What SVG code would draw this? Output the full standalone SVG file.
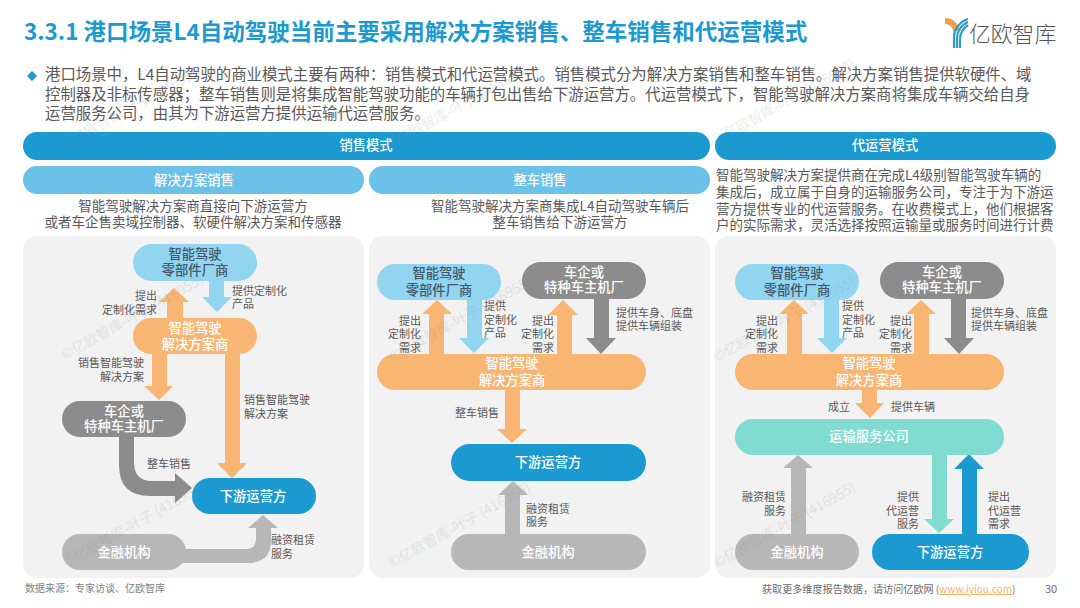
<svg xmlns="http://www.w3.org/2000/svg" width="1080" height="608" viewBox="0 0 1080 608">
<style>
text{font-family:"Noto Sans CJK SC","Noto Sans",sans-serif}
.title{font-size:22.5px;font-weight:700;fill:#1b9ad2}
.body{font-size:15.4px;fill:#595959}
.bar{fill:#1b9ad2}.sub{fill:#6cc1e8}
.bt{font-size:13.3px;fill:#fff;text-anchor:middle;font-weight:500}
.desc{font-size:13.5px;fill:#595959}
.m{text-anchor:middle}
.panel{fill:#f2f2f2}
.lbl{font-size:11px;fill:#595959}
.e{text-anchor:end}
.nt{font-size:13.3px;fill:#fff;text-anchor:middle;font-weight:500}
.dk{fill:#44586a}
.orange{fill:#f9b572}.lblue{fill:#92d5f1}.gray{fill:#8c8c8c}.lgray{fill:#b7b7b7}.teal{fill:#80dbd1}.blue{fill:#1b9ad2}
.wm{font-size:14px;fill:#8a8a8a;opacity:.16}
.foot{font-size:10px;fill:#7f7f7f}
.foot2{font-size:10.1px;fill:#6b6b6b}
</style>
<rect width="1080" height="608" fill="#fff"/>
<text class="title" x="24" y="40">3.3.1 港口场景L4自动驾驶当前主要采用解决方案销售、整车销售和代运营模式</text>
<g id="logo">
<path d="M945,21 C952,21 955,25 956.5,31" fill="none" stroke="#f0a04b" stroke-width="6"/>
<g fill="none" stroke="#2f9bc8" stroke-width="2.2">
<path d="M954,48 V37 C954,30 959,22 968,19"/>
<path d="M957,48 V38 C957,32 961,25 968,22"/>
<path d="M960,48 V39 C960,34 963,28 968,25"/>
</g>
<text x="969" y="42" font-size="21.8" font-weight="300" fill="#555">亿欧智库</text>
</g>
<polygon points="32,71 37,76 32,81 27,76" fill="#1b9ad2"/>
<text class="body" x="45" y="80">港口场景中，L4自动驾驶的商业模式主要有两种：销售模式和代运营模式。销售模式分为解决方案销售和整车销售。解决方案销售提供软硬件、域</text>
<text class="body" x="45" y="100">控制器及非标传感器；整车销售则是将集成智能驾驶功能的车辆打包出售给下游运营方。代运营模式下，智能驾驶解决方案商将集成车辆交给自身</text>
<text class="body" x="45" y="119">运营服务公司，由其为下游运营方提供运输代运营服务。</text>

<g id="header-sales"><rect class="bar" x="23" y="132" width="687" height="28" rx="14"/><text class="bt" x="366" y="150">销售模式</text></g>
<g id="header-ops"><rect class="bar" x="715" y="132" width="341" height="28" rx="14"/><text class="bt" x="885" y="150">代运营模式</text></g>
<g id="sub-solution"><rect class="sub" x="23" y="166" width="341" height="28" rx="14"/><text class="bt" x="194" y="185">解决方案销售</text></g>
<g id="sub-vehicle"><rect class="sub" x="369" y="166" width="341" height="28" rx="14"/><text class="bt" x="540" y="185">整车销售</text></g>

<text class="desc m" x="193" y="211">智能驾驶解决方案商直接向下游运营方</text>
<text class="desc m" x="193" y="227">或者车企售卖域控制器、软硬件解决方案和传感器</text>
<text class="desc m" x="560" y="211">智能驾驶解决方案商集成L4自动驾驶车辆后</text>
<text class="desc m" x="560" y="227">整车销售给下游运营方</text>
<text class="desc" x="716" y="180">智能驾驶解决方案提供商在完成L4级别智能驾驶车辆的</text>
<text class="desc" x="716" y="197">集成后，成立属于自身的运输服务公司，专注于为下游运</text>
<text class="desc" x="716" y="214">营方提供专业的代运营服务。在收费模式上，他们根据客</text>
<text class="desc" x="716" y="230">户的实际需求，灵活选择按照运输量或服务时间进行计费</text>

<rect class="panel" x="23" y="236" width="341" height="342" rx="14"/>
<rect class="panel" x="369" y="236" width="341" height="342" rx="14"/>
<rect class="panel" x="715" y="236" width="341" height="342" rx="14"/>

<g id="connectors">
<polygon class="orange" points="167,318 183,318 183,302 189,302 174,288 159,302 167,302"/>
<polygon class="lblue" points="209,281 224,281 224,297 232,297 217,312 202,297 209,297"/>
<polygon class="orange" points="152,354 167,354 167,386 173,386 159,400 144,386 152,386"/>
<polygon class="orange" points="225,354 240,354 240,463 247,463 232,478 217,463 225,463"/>
<path class="gray" d="M119,437 H134 V462 Q134,481 152,481 H175 V473 L192,488 L175,503 V496 H150 Q119,496 119,465 Z"/>
<path class="lgray" d="M180,549 H246 Q256,549 256,539 V528 H248 L263,515 L278,528 H271 V540 Q271,563 248,563 H180 Z"/>

<polygon class="orange" points="429,354 444,354 444,314 452,314 437,300 422,314 429,314"/>
<polygon class="lblue" points="467,300 482,300 482,338 489,338 474,353 459,338 467,338"/>
<polygon class="orange" points="557,354 572,354 572,315 578,315 563,300 548,315 557,315"/>
<polygon class="gray" points="594,299 609,299 609,338 616,338 601,354 586,338 594,338"/>
<polygon class="orange" points="505,390 520,390 520,429 527,429 512,443 497,429 505,429"/>
<polygon class="lgray" points="505,534 520,534 520,495 528,495 513,481 498,495 505,495"/>

<polygon class="orange" points="787,354 802,354 802,314 809,314 794,300 779,314 787,314"/>
<polygon class="lblue" points="824,300 839,300 839,338 847,338 832,353 817,338 824,338"/>
<polygon class="orange" points="914,354 929,354 929,314 936,314 921,300 906,314 914,314"/>
<polygon class="gray" points="951,299 966,299 966,338 974,338 959,354 944,338 951,338"/>
<polygon class="orange" points="862,390 877,390 877,403 884,403 870,418 855,403 862,403"/>
<polygon class="lgray" points="791,534 806,534 806,468 813,468 798,455 783,468 791,468"/>
<polygon class="teal" points="932,455 947,455 947,519 954,519 939,533 924,519 932,519"/>
<polygon class="blue" points="962,534 977,534 977,469 984,469 969,454 954,469 962,469"/>
</g>

<g id="p1-parts"><rect class="lblue" x="133" y="244" width="124" height="37" rx="18.5"/><text class="nt dk" x="195" y="259">智能驾驶</text><text class="nt dk" x="195" y="275">零部件厂商</text></g>
<g id="p1-solution"><rect class="orange" x="133" y="318" width="124" height="36" rx="18"/><text class="nt" x="195" y="333">智能驾驶</text><text class="nt" x="195" y="349">解决方案商</text></g>
<g id="p1-oem"><rect class="gray" x="62" y="401" width="124" height="36" rx="18"/><text class="nt" x="124" y="416">车企或</text><text class="nt" x="124" y="431">特种车主机厂</text></g>
<g id="p1-downstream"><rect class="blue" x="192" y="478" width="124" height="36" rx="18"/><text class="nt" x="253" y="501">下游运营方</text></g>
<g id="p1-finance"><rect class="lgray" x="62" y="534" width="124" height="36" rx="18"/><text class="nt" x="124" y="557">金融机构</text></g>

<g id="p2-parts"><rect class="lblue" x="377" y="264" width="124" height="36" rx="18"/><text class="nt dk" x="439" y="278">智能驾驶</text><text class="nt dk" x="439" y="295">零部件厂商</text></g>
<g id="p2-oem"><rect class="gray" x="522" y="262" width="124" height="37" rx="18.5"/><text class="nt" x="584" y="277">车企或</text><text class="nt" x="584" y="292">特种车主机厂</text></g>
<g id="p2-solution"><rect class="orange" x="377" y="354" width="269" height="36" rx="18"/><text class="nt" x="512" y="368">智能驾驶</text><text class="nt" x="512" y="385">解决方案商</text></g>
<g id="p2-downstream"><rect class="blue" x="451" y="444" width="195" height="37" rx="18.5"/><text class="nt" x="548" y="467">下游运营方</text></g>
<g id="p2-finance"><rect class="lgray" x="451" y="534" width="195" height="36" rx="18"/><text class="nt" x="548" y="557">金融机构</text></g>

<g id="p3-parts"><rect class="lblue" x="735" y="264" width="124" height="36" rx="18"/><text class="nt dk" x="797" y="278">智能驾驶</text><text class="nt dk" x="797" y="295">零部件厂商</text></g>
<g id="p3-oem"><rect class="gray" x="880" y="262" width="124" height="37" rx="18.5"/><text class="nt" x="942" y="277">车企或</text><text class="nt" x="942" y="292">特种车主机厂</text></g>
<g id="p3-solution"><rect class="orange" x="735" y="354" width="269" height="36" rx="18"/><text class="nt" x="869" y="368">智能驾驶</text><text class="nt" x="869" y="385">解决方案商</text></g>
<g id="p3-transport"><rect class="teal" x="735" y="419" width="269" height="36" rx="18"/><text class="nt" x="869" y="441">运输服务公司</text></g>
<g id="p3-finance"><rect class="lgray" x="735" y="534" width="124" height="36" rx="18"/><text class="nt" x="797" y="557">金融机构</text></g>
<g id="p3-downstream"><rect class="blue" x="872" y="534" width="157" height="36" rx="18"/><text class="nt" x="950" y="557">下游运营方</text></g>

<g id="labels">
<text class="lbl e" x="157" y="300">提出</text><text class="lbl e" x="157" y="314">定制化需求</text>
<text class="lbl" x="232" y="295">提供定制化</text><text class="lbl" x="232" y="308">产品</text>
<text class="lbl e" x="144" y="367">销售智能驾驶</text><text class="lbl e" x="144" y="381">解决方案</text>
<text class="lbl" x="244" y="404">销售智能驾驶</text><text class="lbl" x="244" y="418">解决方案</text>
<text class="lbl" x="147" y="468">整车销售</text>
<text class="lbl" x="271" y="544">融资租赁</text><text class="lbl" x="271" y="558">服务</text>

<text class="lbl e" x="421" y="325">提出</text><text class="lbl e" x="421" y="338">定制化</text><text class="lbl e" x="421" y="352">需求</text>
<text class="lbl" x="484" y="310">提供</text><text class="lbl" x="484" y="324">定制化</text><text class="lbl" x="484" y="337">产品</text>
<text class="lbl e" x="554" y="325">提出</text><text class="lbl e" x="554" y="338">定制化</text><text class="lbl e" x="554" y="352">需求</text>
<text class="lbl" x="616" y="317">提供车身、底盘</text><text class="lbl" x="616" y="330">提供车辆组装</text>
<text class="lbl" x="455" y="417">整车销售</text>
<text class="lbl" x="526" y="513">融资租赁</text><text class="lbl" x="526" y="526">服务</text>

<text class="lbl e" x="778" y="325">提出</text><text class="lbl e" x="778" y="338">定制化</text><text class="lbl e" x="778" y="352">需求</text>
<text class="lbl" x="842" y="310">提供</text><text class="lbl" x="842" y="324">定制化</text><text class="lbl" x="842" y="337">产品</text>
<text class="lbl e" x="912" y="325">提出</text><text class="lbl e" x="912" y="338">定制化</text><text class="lbl e" x="912" y="352">需求</text>
<text class="lbl" x="971" y="317">提供车身、底盘</text><text class="lbl" x="971" y="330">提供车辆组装</text>
<text class="lbl" x="828" y="411">成立</text><text class="lbl" x="891" y="411">提供车辆</text>
<text class="lbl e" x="786" y="501">融资租赁</text><text class="lbl e" x="786" y="515">服务</text>
<text class="lbl e" x="919" y="501">提供</text><text class="lbl e" x="919" y="515">代运营</text><text class="lbl e" x="919" y="528">服务</text>
<text class="lbl" x="988" y="501">提出</text><text class="lbl" x="988" y="515">代运营</text><text class="lbl" x="988" y="528">需求</text>
</g>

<g id="watermarks">
<text class="wm" transform="translate(65,360) rotate(-29)">©亿欧智库-叶子 (416955)</text>
<text class="wm" transform="translate(67,567) rotate(-29)">©亿欧智库-叶子 (416955)</text>
<text class="wm" transform="translate(392,568) rotate(-29)">©亿欧智库-叶子 (416955)</text>
<text class="wm" transform="translate(393,362) rotate(-29)">©亿欧智库-叶子 (416955)</text>
<text class="wm" transform="translate(717,362) rotate(-29)">©亿欧智库-叶子 (416955)</text>
<text class="wm" transform="translate(717,568) rotate(-29)">©亿欧智库-叶子 (416955)</text>
<text class="wm" transform="translate(65,150) rotate(-29)">©亿欧智库-叶子 (416955)</text>
<text class="wm" transform="translate(390,150) rotate(-29)">©亿欧智库-叶子 (416955)</text>
<text class="wm" transform="translate(717,145) rotate(-29)">©亿欧智库-叶子 (416955)</text>
</g>

<text class="foot" x="25" y="592">数据来源：专家访谈、亿欧智库</text>
<text class="foot2" x="762" y="593">获取更多维度报告数据，请访问亿欧网 (<tspan fill="#f5b26b" text-decoration="underline">www.iyiou.com</tspan>)</text>
<text x="1045" y="593" font-size="11" fill="#6b6b6b">30</text>
</svg>
